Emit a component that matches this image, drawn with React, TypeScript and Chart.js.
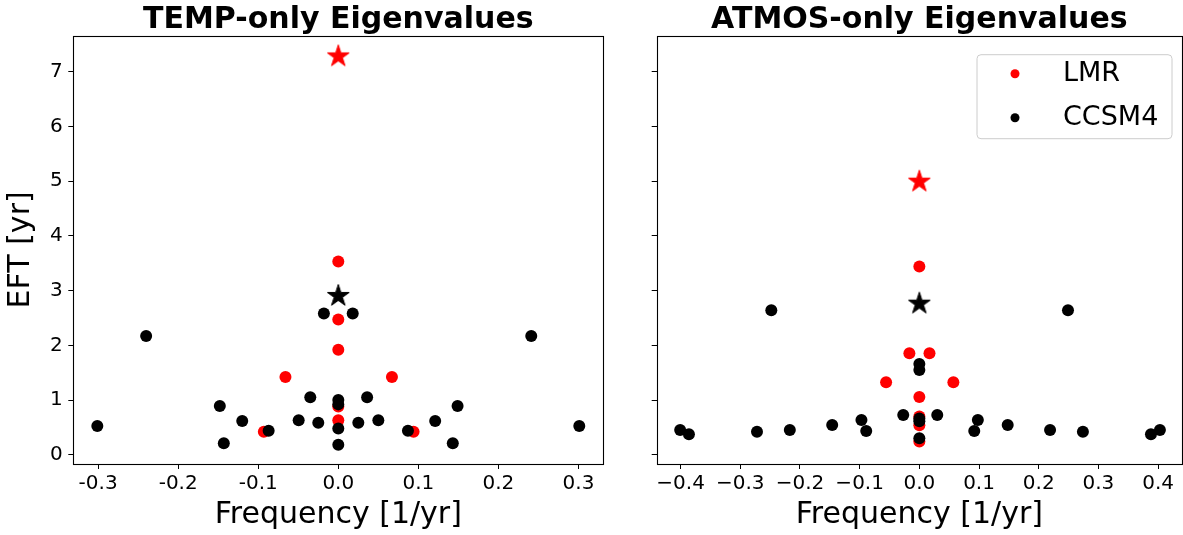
import React, { useEffect, useRef } from "react";
import { Chart, registerables } from "chart.js";
Chart.register(...registerables);
Chart.defaults.font.family = "'DejaVu Sans', sans-serif";
Chart.defaults.color = "#000";

// ---------- data ----------
const SERIES_NAMES = ["LMR", "CCSM4"];
const SERIES_COLORS = ["#ff0000", "#000000"];
const TITLES = ["TEMP-only Eigenvalues", "ATMOS-only Eigenvalues"];
const X_TITLE = "Frequency [1/yr]";
const Y_TITLE = "EFT [yr]";

const TEMP_LMR_X = [0, 0, 0, -0.066, 0.067, -0.093, 0.094, 0, 0];
const TEMP_LMR_Y = [3.53, 2.47, 1.92, 1.42, 1.42, 0.42, 0.42, 0.88, 0.63];
const TEMP_LMR_STAR_X = [0];
const TEMP_LMR_STAR_Y = [7.3];
const TEMP_CCSM_X = [-0.301, 0.301, -0.24, 0.241, -0.148, 0.149, -0.143, 0.143, -0.12, 0.121, -0.087, 0.087, -0.0495, 0.05, -0.035, 0.036, -0.025, 0.025, -0.018, 0.018, 0, 0, 0, 0];
const TEMP_CCSM_Y = [0.525, 0.525, 2.17, 2.17, 0.89, 0.89, 0.21, 0.21, 0.617, 0.617, 0.44, 0.44, 0.63, 0.63, 1.05, 1.05, 0.586, 0.586, 2.58, 2.58, 1.0, 0.92, 0.48, 0.18];
const TEMP_CCSM_STAR_X = [0];
const TEMP_CCSM_STAR_Y = [2.92];

const ATMOS_LMR_X = [0, -0.0167, 0.017, -0.0557, 0.057, 0, 0, 0, 0];
const ATMOS_LMR_Y = [3.44, 1.856, 1.856, 1.325, 1.325, 1.056, 0.7, 0.54, 0.24];
const ATMOS_LMR_STAR_X = [0];
const ATMOS_LMR_STAR_Y = [5.01];
const ATMOS_CCSM_X = [-0.4007, 0.403, -0.386, 0.388, -0.272, 0.274, -0.248, 0.249, -0.217, 0.219, -0.146, 0.148, -0.097, 0.098, -0.089, 0.092, -0.027, 0.03, 0, 0, 0, 0, 0];
const ATMOS_CCSM_Y = [0.452, 0.452, 0.373, 0.373, 0.42, 0.42, 2.64, 2.64, 0.452, 0.452, 0.543, 0.543, 0.635, 0.635, 0.434, 0.434, 0.727, 0.727, 1.66, 1.55, 0.66, 0.61, 0.3];
const ATMOS_CCSM_STAR_X = [0];
const ATMOS_CCSM_STAR_Y = [2.78];

const LEFT_X_TICKS = [-0.3, -0.2, -0.1, 0, 0.1, 0.2, 0.3];
const LEFT_X_LABELS = ["-0.3", "-0.2", "-0.1", "0.0", "0.1", "0.2", "0.3"];
const RIGHT_X_TICKS = [-0.4, -0.3, -0.2, -0.1, 0, 0.1, 0.2, 0.3, 0.4];
const RIGHT_X_LABELS = ["\u22120.4", "\u22120.3", "\u22120.2", "\u22120.1", "0.0", "0.1", "0.2", "0.3", "0.4"];
const Y_TICKS = [0, 1, 2, 3, 4, 5, 6, 7];
const Y_LABELS = ["0", "1", "2", "3", "4", "5", "6", "7"];

const LEFT_X_RANGE = [-0.331, 0.331];
const RIGHT_X_RANGE = [-0.44, 0.44];
const Y_RANGE = [-0.17, 7.66];

// ---------- helpers ----------
const pts = (xs: number[], ys: number[]) => xs.map((x, i) => ({ x, y: ys[i] }));

function makeStar(color: string) {
  const size = 26;
  const c = document.createElement("canvas");
  c.width = size;
  c.height = size;
  const ctx = c.getContext("2d")!;
  const R = 11.5;
  const r = R * 0.382;
  const cx = size / 2;
  const cy = size / 2 + 1;
  ctx.beginPath();
  for (let i = 0; i < 10; i++) {
    const rad = i % 2 === 0 ? R : r;
    const a = -Math.PI / 2 + (i * Math.PI) / 5;
    const px = cx + rad * Math.cos(a);
    const py = cy + rad * Math.sin(a);
    if (i === 0) ctx.moveTo(px, py);
    else ctx.lineTo(px, py);
  }
  ctx.closePath();
  ctx.fillStyle = color;
  ctx.fill();
  ctx.strokeStyle = color;
  ctx.lineWidth = 1;
  ctx.stroke();
  return c;
}

const framePlugin = {
  id: "frame",
  afterDraw(chart: any) {
    const { ctx, chartArea: a } = chart;
    ctx.save();
    ctx.strokeStyle = "#000";
    ctx.lineWidth = 1.1;
    ctx.strokeRect(Math.round(a.left) + 0.5, Math.round(a.top) + 0.5, Math.round(a.right - a.left), Math.round(a.bottom - a.top));
    ctx.restore();
  },
};

const legendPlugin = {
  id: "legendBox",
  afterDraw(chart: any) {
    const { ctx, chartArea: a } = chart;
    const w = 195;
    const h = 84;
    const x = a.right - 10 - w;
    const y = a.top + 19;
    ctx.save();
    ctx.beginPath();
    const rr = 4;
    ctx.moveTo(x + rr, y);
    ctx.arcTo(x + w, y, x + w, y + h, rr);
    ctx.arcTo(x + w, y + h, x, y + h, rr);
    ctx.arcTo(x, y + h, x, y, rr);
    ctx.arcTo(x, y, x + w, y, rr);
    ctx.closePath();
    ctx.fillStyle = "rgba(255,255,255,0.8)";
    ctx.fill();
    ctx.strokeStyle = "#cccccc";
    ctx.lineWidth = 1;
    ctx.stroke();
    ctx.font = "27px 'DejaVu Sans', sans-serif";
    ctx.textBaseline = "middle";
    ctx.textAlign = "left";
    SERIES_NAMES.forEach((name, i) => {
      const iy = y + 19 + i * 44;
      ctx.beginPath();
      ctx.arc(x + 38, iy, 4.5, 0, Math.PI * 2);
      ctx.fillStyle = SERIES_COLORS[i];
      ctx.fill();
      ctx.fillStyle = "#000";
      ctx.fillText(name, x + 86, iy);
    });
    ctx.restore();
  },
};

function buildConfig(opts: {
  title: string;
  lmr: { x: number; y: number }[];
  lmrStar: { x: number; y: number }[];
  ccsm: { x: number; y: number }[];
  ccsmStar: { x: number; y: number }[];
  xRange: number[];
  xTicks: number[];
  xLabels: string[];
  yAxisWidth: number;
  showYLabels: boolean;
  padRight: number;
  legend: boolean;
}): any {
  const redStar = makeStar(SERIES_COLORS[0]);
  const blackStar = makeStar(SERIES_COLORS[1]);
  return {
    type: "scatter",
    data: {
      datasets: [
        { label: SERIES_NAMES[1], data: opts.ccsm, backgroundColor: SERIES_COLORS[1], borderWidth: 0, pointRadius: 6, order: 1 },
        { label: SERIES_NAMES[0], data: opts.lmr, backgroundColor: SERIES_COLORS[0], borderWidth: 0, pointRadius: 6, order: 2 },
        { label: SERIES_NAMES[1] + " star", data: opts.ccsmStar, pointStyle: blackStar, pointRadius: 12, order: 0 },
        { label: SERIES_NAMES[0] + " star", data: opts.lmrStar, pointStyle: redStar, pointRadius: 12, order: 0 },
      ],
    },
    options: {
      animation: false,
      responsive: false,
      devicePixelRatio: 1,
      events: [],
      layout: { padding: { left: 0, right: opts.padRight, top: 0, bottom: 0 } },
      plugins: {
        legend: { display: false },
        tooltip: { enabled: false },
        title: {
          display: true,
          text: opts.title,
          fullSize: false,
          color: "#000",
          font: { size: 30, weight: "bold", lineHeight: 1.057 },
          padding: { top: 4, bottom: 0 },
        },
      },
      scales: {
        x: {
          type: "linear",
          min: opts.xRange[0],
          max: opts.xRange[1],
          afterBuildTicks: (s: any) => {
            s.ticks = opts.xTicks.map((v) => ({ value: v }));
          },
          afterFit: (s: any) => {
            s.height = 71;
          },
          ticks: {
            callback: (_v: any, i: number) => opts.xLabels[i],
            font: { size: 20 },
            color: "#000",
            padding: 3,
            maxRotation: 0,
            autoSkip: false,
          },
          grid: { drawOnChartArea: false, tickLength: 5, tickColor: "#000", tickWidth: 1 },
          border: { display: false },
          title: {
            display: true,
            text: X_TITLE,
            color: "#000",
            font: { size: 30 },
            padding: { top: 0, bottom: 2 },
          },
        },
        y: {
          type: "linear",
          min: Y_RANGE[0],
          max: Y_RANGE[1],
          afterBuildTicks: (s: any) => {
            s.ticks = Y_TICKS.map((v) => ({ value: v }));
          },
          afterFit: (s: any) => {
            s.width = opts.yAxisWidth;
          },
          ticks: {
            callback: (_v: any, i: number) => (opts.showYLabels ? Y_LABELS[i] : ""),
            font: { size: 20 },
            color: "#000",
            padding: 5.5,
          },
          grid: { drawOnChartArea: false, tickLength: 5, tickColor: "#000", tickWidth: 1 },
          border: { display: false },
          title: {
            display: opts.showYLabels,
            text: Y_TITLE,
            color: "#000",
            font: { size: 30 },
            padding: { top: 3, bottom: 0 },
          },
        },
      },
    },
    plugins: opts.legend ? [framePlugin, legendPlugin] : [framePlugin],
  };
}

export default function App() {
  const leftRef = useRef<HTMLCanvasElement>(null);
  const rightRef = useRef<HTMLCanvasElement>(null);

  useEffect(() => {
    const c1 = new Chart(
      leftRef.current!,
      buildConfig({
        title: TITLES[0],
        lmr: pts(TEMP_LMR_X, TEMP_LMR_Y),
        lmrStar: pts(TEMP_LMR_STAR_X, TEMP_LMR_STAR_Y),
        ccsm: pts(TEMP_CCSM_X, TEMP_CCSM_Y),
        ccsmStar: pts(TEMP_CCSM_STAR_X, TEMP_CCSM_STAR_Y),
        xRange: LEFT_X_RANGE,
        xTicks: LEFT_X_TICKS,
        xLabels: LEFT_X_LABELS,
        yAxisWidth: 73.3,
        showYLabels: true,
        padRight: 16.7,
        legend: false,
      })
    );
    const c2 = new Chart(
      rightRef.current!,
      buildConfig({
        title: TITLES[1],
        lmr: pts(ATMOS_LMR_X, ATMOS_LMR_Y),
        lmrStar: pts(ATMOS_LMR_STAR_X, ATMOS_LMR_STAR_Y),
        ccsm: pts(ATMOS_CCSM_X, ATMOS_CCSM_Y),
        ccsmStar: pts(ATMOS_CCSM_STAR_X, ATMOS_CCSM_STAR_Y),
        xRange: RIGHT_X_RANGE,
        xTicks: RIGHT_X_TICKS,
        xLabels: RIGHT_X_LABELS,
        yAxisWidth: 36.7,
        showYLabels: false,
        padRight: 10.3,
        legend: true,
      })
    );
    return () => {
      c1.destroy();
      c2.destroy();
    };
  }, []);

  return (
    <div style={{ position: "absolute", left: 0, top: 0, width: 1183, height: 535, overflow: "hidden", background: "#fff" }}>
      <canvas ref={leftRef} width={620} height={535} style={{ position: "absolute", left: 0, top: 0, width: 620, height: 535 }} />
      <canvas ref={rightRef} width={575} height={535} style={{ position: "absolute", left: 620, top: 0, width: 575, height: 535 }} />
    </div>
  );
}
